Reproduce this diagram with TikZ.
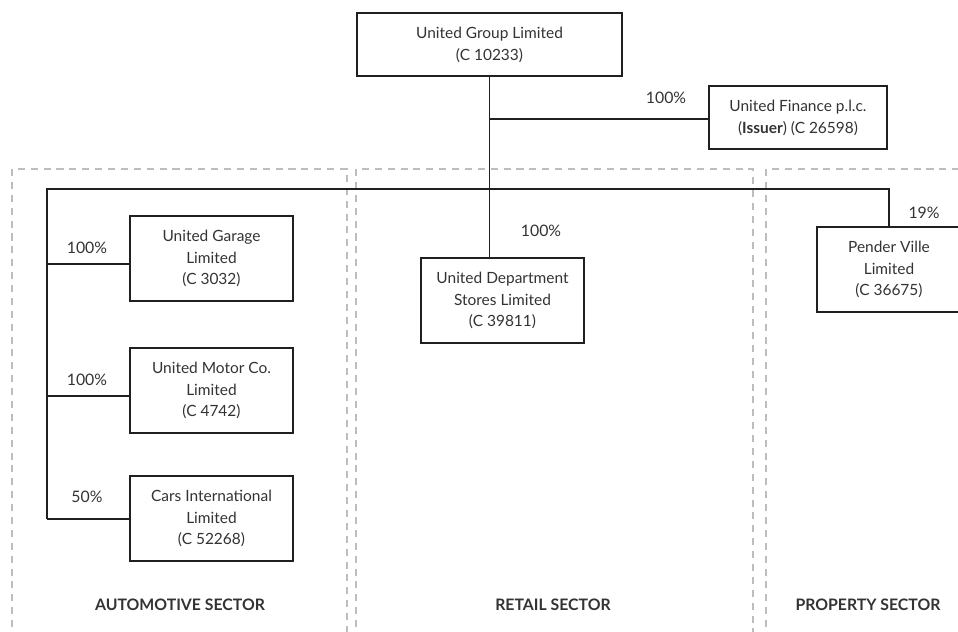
\documentclass[tikz,border=0pt]{standalone}
\usepackage{fontspec}
\setmainfont{Lato}
\usepackage{tikz}
\usetikzlibrary{positioning,calc}
\definecolor{inkline}{HTML}{231F20}
\definecolor{inktext}{HTML}{333333}
\definecolor{sectorgrey}{HTML}{BDBDBD}

\begin{document}
\begin{tikzpicture}[x=0.03cm,y=-0.03cm,
  coy/.style={draw=inkline,line width=1.3pt,align=center,inner sep=0pt,text=inktext,font=\fontsize{13.2}{18.7}\selectfont},
  pct/.style={text=inktext,font=\fontsize{13.5}{15}\selectfont},
  link/.style={draw=inkline,line width=1.3pt},
  sect/.style={draw=sectorgrey,line width=0.9pt,dash pattern=on 6pt off 5pt},
  sectlabel/.style={text=inktext,font=\bfseries\fontsize{13.5}{15}\selectfont}]
\useasboundingbox (0,0) rectangle (958,631);
% sector frames
\draw[sect] (12,640)--(12,169)--(347,169)--(347,640);
\draw[sect] (356,640)--(356,169)--(753,169)--(753,640);
\draw[sect] (766,640)--(766,169)--(1000,169);
\node[sectlabel] (autolbl) at (180,605) {AUTOMOTIVE SECTOR};
\node[sectlabel] (retlbl) at (553,605) {RETAIL SECTOR};
\node[sectlabel] (proplbl) at (868,605) {PROPERTY SECTOR};
% companies
\node[coy,minimum width=7.95cm,minimum height=1.89cm] (ugl) at (489.5,44.5) {United Group Limited\\(C 10233)};
\node[coy,minimum width=5.34cm,minimum height=1.89cm] (ufin) at (798,117.5) {United Finance p.l.c.\\(\textbf{Issuer}) (C 26598)};
\node[coy,minimum width=4.89cm,minimum height=2.55cm] (ugar) at (211.5,258.5) {United Garage\\Limited\\(C 3032)};
\node[coy,minimum width=4.89cm,minimum height=2.55cm] (umot) at (211.5,390.5) {United Motor Co.\\Limited\\(C 4742)};
\node[coy,minimum width=4.89cm,minimum height=2.55cm] (cars) at (211.5,518.5) {Cars International\\Limited\\(C 52268)};
\node[coy,minimum width=4.89cm,minimum height=2.55cm] (uds) at (502.5,300.5) {United Department\\Stores Limited\\(C 39811)};
\node[coy,minimum width=4.32cm,minimum height=2.55cm] (pend) at (889,269.5) {Pender Ville\\Limited\\(C 36675)};
% junctions
\coordinate (jfin) at (489.5,119);
\coordinate (jbusl) at (47,189);
\coordinate (jbusr) at (889,189);
\coordinate (jgar) at (47,264);
\coordinate (jmot) at (47,396);
\coordinate (jcar) at (47,519);
% connectors
\draw[link] (ugl.south)--(ugl.south |- uds.north);
\draw[link] (jfin)--(jfin -| ufin.west);
\draw[link] (jcar)--(jbusl)--(jbusr)--(pend.north);
\draw[link] (jgar)--(jgar -| ugar.west);
\draw[link] (jmot)--(jmot -| umot.west);
\draw[link] (jcar)--(jcar -| cars.west);
% shareholdings
\node[pct] (pfin) at (666,98) {100\%};
\node[pct] (pgar) at (87,248) {100\%};
\node[pct] (pmot) at (87,380) {100\%};
\node[pct] (pcar) at (87,497) {50\%};
\node[pct] (puds) at (541,231) {100\%};
\node[pct] (pend1) at (924,213) {19\%};
\end{tikzpicture}
\end{document}
